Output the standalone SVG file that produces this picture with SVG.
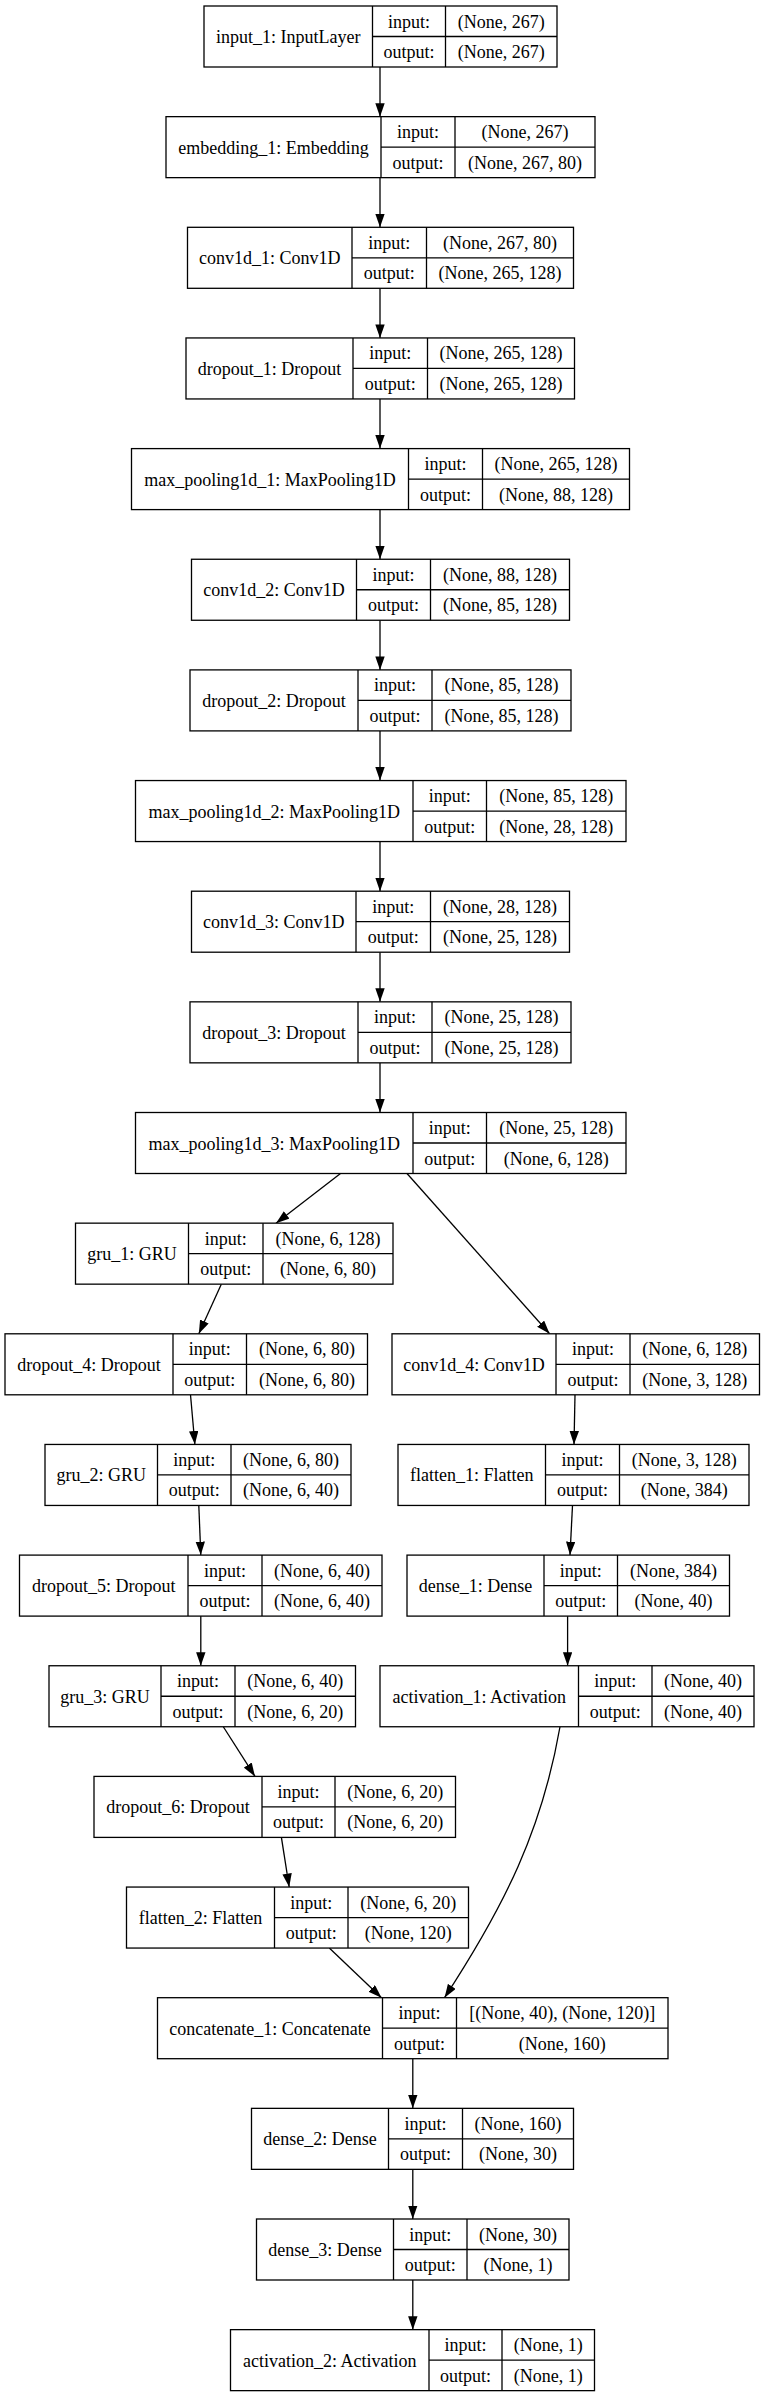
<svg xmlns="http://www.w3.org/2000/svg" width="762" height="2397" viewBox="0 0 762 2397">
<style>
rect.b{fill:#fff;stroke:#000;stroke-width:1.3}
line.d{stroke:#000;stroke-width:1.3}
text{font-family:"Liberation Serif","Times New Roman",serif;font-size:18px;fill:#000;text-anchor:middle}
.e{fill:none;stroke:#000;stroke-width:1.3;marker-end:url(#ah)}
</style>
<defs>
<marker id="ah" markerUnits="userSpaceOnUse" markerWidth="14" markerHeight="10" refX="13.5" refY="4.7" orient="auto">
<path d="M0,0 L13.5,4.7 L0,9.4 z" fill="#000"/>
</marker>
</defs>
<rect width="762" height="2397" fill="#fff"/>
<g id="connectors">
<path class="e" d="M380,67 L380,116.65"/>
<path class="e" d="M380,177.65 L380,227.3"/>
<path class="e" d="M380,288.3 L380,337.95"/>
<path class="e" d="M380,398.95 L380,448.6"/>
<path class="e" d="M380,509.6 L380,559.25"/>
<path class="e" d="M380,620.25 L380,669.9"/>
<path class="e" d="M380,730.9 L380,780.55"/>
<path class="e" d="M380,841.55 L380,891.2"/>
<path class="e" d="M380,952.2 L380,1001.85"/>
<path class="e" d="M380,1062.85 L380,1112.5"/>
<path class="e" d="M340.5,1173.5 L276,1223.15"/>
<path class="e" d="M407,1173.5 L549.6,1333.8"/>
<path class="e" d="M221.3,1284.15 L198.8,1333.8"/>
<path class="e" d="M190.5,1394.8 L194.9,1444.45"/>
<path class="e" d="M575,1394.8 L574,1444.45"/>
<path class="e" d="M198.8,1505.45 L200.8,1555.1"/>
<path class="e" d="M572.5,1505.45 L570,1555.1"/>
<path class="e" d="M200.8,1616.1 L200.8,1665.75"/>
<path class="e" d="M567.6,1616.1 L567.6,1665.75"/>
<path class="e" d="M223.3,1726.75 L255,1776.4"/>
<path class="e" d="M560,1726.75 C542,1830 505,1905 444.5,1997.7"/>
<path class="e" d="M281.4,1837.4 L289.2,1887.05"/>
<path class="e" d="M329.3,1948.05 L381.5,1997.7"/>
<path class="e" d="M412.8,2058.7 L412.8,2108.35"/>
<path class="e" d="M412.8,2169.35 L412.8,2219"/>
<path class="e" d="M412.8,2280 L412.8,2329.65"/>
</g>

<g id="input_1" transform="translate(0,6)">
<rect class="b" x="204" y="0" width="353" height="61"/>
<line class="d" x1="372.5" y1="0" x2="372.5" y2="61"/><line class="d" x1="445.5" y1="0" x2="445.5" y2="61"/><line class="d" x1="372.5" y1="30.5" x2="557" y2="30.5"/>
<text x="288.25" y="37">input_1: InputLayer</text>
<text x="409" y="21.5">input:</text><text x="409" y="52">output:</text>
<text x="501.25" y="21.5">(None, 267)</text><text x="501.25" y="52">(None, 267)</text>
</g>

<g id="embedding_1" transform="translate(0,116.65)">
<rect class="b" x="166" y="0" width="429" height="61"/>
<line class="d" x1="381" y1="0" x2="381" y2="61"/><line class="d" x1="455" y1="0" x2="455" y2="61"/><line class="d" x1="381" y1="30.5" x2="595" y2="30.5"/>
<text x="273.5" y="37">embedding_1: Embedding</text>
<text x="418" y="21.5">input:</text><text x="418" y="52">output:</text>
<text x="525" y="21.5">(None, 267)</text><text x="525" y="52">(None, 267, 80)</text>
</g>

<g id="conv1d_1" transform="translate(0,227.3)">
<rect class="b" x="187.5" y="0" width="386" height="61"/>
<line class="d" x1="352" y1="0" x2="352" y2="61"/><line class="d" x1="426.5" y1="0" x2="426.5" y2="61"/><line class="d" x1="352" y1="30.5" x2="573.5" y2="30.5"/>
<text x="269.75" y="37">conv1d_1: Conv1D</text>
<text x="389.25" y="21.5">input:</text><text x="389.25" y="52">output:</text>
<text x="500" y="21.5">(None, 267, 80)</text><text x="500" y="52">(None, 265, 128)</text>
</g>

<g id="dropout_1" transform="translate(0,337.95)">
<rect class="b" x="186" y="0" width="388.5" height="61"/>
<line class="d" x1="353" y1="0" x2="353" y2="61"/><line class="d" x1="427.5" y1="0" x2="427.5" y2="61"/><line class="d" x1="353" y1="30.5" x2="574.5" y2="30.5"/>
<text x="269.5" y="37">dropout_1: Dropout</text>
<text x="390.25" y="21.5">input:</text><text x="390.25" y="52">output:</text>
<text x="501" y="21.5">(None, 265, 128)</text><text x="501" y="52">(None, 265, 128)</text>
</g>

<g id="max_pooling1d_1" transform="translate(0,448.6)">
<rect class="b" x="131.5" y="0" width="498" height="61"/>
<line class="d" x1="408.5" y1="0" x2="408.5" y2="61"/><line class="d" x1="482.5" y1="0" x2="482.5" y2="61"/><line class="d" x1="408.5" y1="30.5" x2="629.5" y2="30.5"/>
<text x="270" y="37">max_pooling1d_1: MaxPooling1D</text>
<text x="445.5" y="21.5">input:</text><text x="445.5" y="52">output:</text>
<text x="556" y="21.5">(None, 265, 128)</text><text x="556" y="52">(None, 88, 128)</text>
</g>

<g id="conv1d_2" transform="translate(0,559.25)">
<rect class="b" x="191.5" y="0" width="378" height="61"/>
<line class="d" x1="356.5" y1="0" x2="356.5" y2="61"/><line class="d" x1="430.5" y1="0" x2="430.5" y2="61"/><line class="d" x1="356.5" y1="30.5" x2="569.5" y2="30.5"/>
<text x="274" y="37">conv1d_2: Conv1D</text>
<text x="393.5" y="21.5">input:</text><text x="393.5" y="52">output:</text>
<text x="500" y="21.5">(None, 88, 128)</text><text x="500" y="52">(None, 85, 128)</text>
</g>

<g id="dropout_2" transform="translate(0,669.9)">
<rect class="b" x="190" y="0" width="381" height="61"/>
<line class="d" x1="358" y1="0" x2="358" y2="61"/><line class="d" x1="432" y1="0" x2="432" y2="61"/><line class="d" x1="358" y1="30.5" x2="571" y2="30.5"/>
<text x="274" y="37">dropout_2: Dropout</text>
<text x="395" y="21.5">input:</text><text x="395" y="52">output:</text>
<text x="501.5" y="21.5">(None, 85, 128)</text><text x="501.5" y="52">(None, 85, 128)</text>
</g>

<g id="max_pooling1d_2" transform="translate(0,780.55)">
<rect class="b" x="135.5" y="0" width="490.5" height="61"/>
<line class="d" x1="413" y1="0" x2="413" y2="61"/><line class="d" x1="486.5" y1="0" x2="486.5" y2="61"/><line class="d" x1="413" y1="30.5" x2="626" y2="30.5"/>
<text x="274.25" y="37">max_pooling1d_2: MaxPooling1D</text>
<text x="449.75" y="21.5">input:</text><text x="449.75" y="52">output:</text>
<text x="556.25" y="21.5">(None, 85, 128)</text><text x="556.25" y="52">(None, 28, 128)</text>
</g>

<g id="conv1d_3" transform="translate(0,891.2)">
<rect class="b" x="191.5" y="0" width="378" height="61"/>
<line class="d" x1="356" y1="0" x2="356" y2="61"/><line class="d" x1="430.5" y1="0" x2="430.5" y2="61"/><line class="d" x1="356" y1="30.5" x2="569.5" y2="30.5"/>
<text x="273.75" y="37">conv1d_3: Conv1D</text>
<text x="393.25" y="21.5">input:</text><text x="393.25" y="52">output:</text>
<text x="500" y="21.5">(None, 28, 128)</text><text x="500" y="52">(None, 25, 128)</text>
</g>

<g id="dropout_3" transform="translate(0,1001.85)">
<rect class="b" x="190" y="0" width="381" height="61"/>
<line class="d" x1="358" y1="0" x2="358" y2="61"/><line class="d" x1="432" y1="0" x2="432" y2="61"/><line class="d" x1="358" y1="30.5" x2="571" y2="30.5"/>
<text x="274" y="37">dropout_3: Dropout</text>
<text x="395" y="21.5">input:</text><text x="395" y="52">output:</text>
<text x="501.5" y="21.5">(None, 25, 128)</text><text x="501.5" y="52">(None, 25, 128)</text>
</g>

<g id="max_pooling1d_3" transform="translate(0,1112.5)">
<rect class="b" x="135.5" y="0" width="490.5" height="61"/>
<line class="d" x1="413" y1="0" x2="413" y2="61"/><line class="d" x1="486.5" y1="0" x2="486.5" y2="61"/><line class="d" x1="413" y1="30.5" x2="626" y2="30.5"/>
<text x="274.25" y="37">max_pooling1d_3: MaxPooling1D</text>
<text x="449.75" y="21.5">input:</text><text x="449.75" y="52">output:</text>
<text x="556.25" y="21.5">(None, 25, 128)</text><text x="556.25" y="52">(None, 6, 128)</text>
</g>

<g id="gru_1" transform="translate(0,1223.15)">
<rect class="b" x="75.5" y="0" width="317.5" height="61"/>
<line class="d" x1="188.5" y1="0" x2="188.5" y2="61"/><line class="d" x1="263" y1="0" x2="263" y2="61"/><line class="d" x1="188.5" y1="30.5" x2="393" y2="30.5"/>
<text x="132" y="37">gru_1: GRU</text>
<text x="225.75" y="21.5">input:</text><text x="225.75" y="52">output:</text>
<text x="328" y="21.5">(None, 6, 128)</text><text x="328" y="52">(None, 6, 80)</text>
</g>

<g id="dropout_4" transform="translate(0,1333.8)">
<rect class="b" x="5" y="0" width="362.5" height="61"/>
<line class="d" x1="173" y1="0" x2="173" y2="61"/><line class="d" x1="246.5" y1="0" x2="246.5" y2="61"/><line class="d" x1="173" y1="30.5" x2="367.5" y2="30.5"/>
<text x="89" y="37">dropout_4: Dropout</text>
<text x="209.75" y="21.5">input:</text><text x="209.75" y="52">output:</text>
<text x="307" y="21.5">(None, 6, 80)</text><text x="307" y="52">(None, 6, 80)</text>
</g>

<g id="conv1d_4" transform="translate(0,1333.8)">
<rect class="b" x="392" y="0" width="367.5" height="61"/>
<line class="d" x1="556" y1="0" x2="556" y2="61"/><line class="d" x1="630" y1="0" x2="630" y2="61"/><line class="d" x1="556" y1="30.5" x2="759.5" y2="30.5"/>
<text x="474" y="37">conv1d_4: Conv1D</text>
<text x="593" y="21.5">input:</text><text x="593" y="52">output:</text>
<text x="694.75" y="21.5">(None, 6, 128)</text><text x="694.75" y="52">(None, 3, 128)</text>
</g>

<g id="gru_2" transform="translate(0,1444.45)">
<rect class="b" x="45" y="0" width="306" height="61"/>
<line class="d" x1="157.5" y1="0" x2="157.5" y2="61"/><line class="d" x1="231" y1="0" x2="231" y2="61"/><line class="d" x1="157.5" y1="30.5" x2="351" y2="30.5"/>
<text x="101.25" y="37">gru_2: GRU</text>
<text x="194.25" y="21.5">input:</text><text x="194.25" y="52">output:</text>
<text x="291" y="21.5">(None, 6, 80)</text><text x="291" y="52">(None, 6, 40)</text>
</g>

<g id="flatten_1" transform="translate(0,1444.45)">
<rect class="b" x="398" y="0" width="351" height="61"/>
<line class="d" x1="545.5" y1="0" x2="545.5" y2="61"/><line class="d" x1="619.5" y1="0" x2="619.5" y2="61"/><line class="d" x1="545.5" y1="30.5" x2="749" y2="30.5"/>
<text x="471.75" y="37">flatten_1: Flatten</text>
<text x="582.5" y="21.5">input:</text><text x="582.5" y="52">output:</text>
<text x="684.25" y="21.5">(None, 3, 128)</text><text x="684.25" y="52">(None, 384)</text>
</g>

<g id="dropout_5" transform="translate(0,1555.1)">
<rect class="b" x="19.5" y="0" width="362.5" height="61"/>
<line class="d" x1="188" y1="0" x2="188" y2="61"/><line class="d" x1="262" y1="0" x2="262" y2="61"/><line class="d" x1="188" y1="30.5" x2="382" y2="30.5"/>
<text x="103.75" y="37">dropout_5: Dropout</text>
<text x="225" y="21.5">input:</text><text x="225" y="52">output:</text>
<text x="322" y="21.5">(None, 6, 40)</text><text x="322" y="52">(None, 6, 40)</text>
</g>

<g id="dense_1" transform="translate(0,1555.1)">
<rect class="b" x="407" y="0" width="322.5" height="61"/>
<line class="d" x1="544" y1="0" x2="544" y2="61"/><line class="d" x1="617.5" y1="0" x2="617.5" y2="61"/><line class="d" x1="544" y1="30.5" x2="729.5" y2="30.5"/>
<text x="475.5" y="37">dense_1: Dense</text>
<text x="580.75" y="21.5">input:</text><text x="580.75" y="52">output:</text>
<text x="673.5" y="21.5">(None, 384)</text><text x="673.5" y="52">(None, 40)</text>
</g>

<g id="gru_3" transform="translate(0,1665.75)">
<rect class="b" x="49" y="0" width="306.5" height="61"/>
<line class="d" x1="161" y1="0" x2="161" y2="61"/><line class="d" x1="235" y1="0" x2="235" y2="61"/><line class="d" x1="161" y1="30.5" x2="355.5" y2="30.5"/>
<text x="105" y="37">gru_3: GRU</text>
<text x="198" y="21.5">input:</text><text x="198" y="52">output:</text>
<text x="295.25" y="21.5">(None, 6, 40)</text><text x="295.25" y="52">(None, 6, 20)</text>
</g>

<g id="activation_1" transform="translate(0,1665.75)">
<rect class="b" x="380" y="0" width="374" height="61"/>
<line class="d" x1="578.5" y1="0" x2="578.5" y2="61"/><line class="d" x1="652" y1="0" x2="652" y2="61"/><line class="d" x1="578.5" y1="30.5" x2="754" y2="30.5"/>
<text x="479.25" y="37">activation_1: Activation</text>
<text x="615.25" y="21.5">input:</text><text x="615.25" y="52">output:</text>
<text x="703" y="21.5">(None, 40)</text><text x="703" y="52">(None, 40)</text>
</g>

<g id="dropout_6" transform="translate(0,1776.4)">
<rect class="b" x="94" y="0" width="361.5" height="61"/>
<line class="d" x1="262" y1="0" x2="262" y2="61"/><line class="d" x1="335" y1="0" x2="335" y2="61"/><line class="d" x1="262" y1="30.5" x2="455.5" y2="30.5"/>
<text x="178" y="37">dropout_6: Dropout</text>
<text x="298.5" y="21.5">input:</text><text x="298.5" y="52">output:</text>
<text x="395.25" y="21.5">(None, 6, 20)</text><text x="395.25" y="52">(None, 6, 20)</text>
</g>

<g id="flatten_2" transform="translate(0,1887.05)">
<rect class="b" x="126.5" y="0" width="342" height="61"/>
<line class="d" x1="274.5" y1="0" x2="274.5" y2="61"/><line class="d" x1="348" y1="0" x2="348" y2="61"/><line class="d" x1="274.5" y1="30.5" x2="468.5" y2="30.5"/>
<text x="200.5" y="37">flatten_2: Flatten</text>
<text x="311.25" y="21.5">input:</text><text x="311.25" y="52">output:</text>
<text x="408.25" y="21.5">(None, 6, 20)</text><text x="408.25" y="52">(None, 120)</text>
</g>

<g id="concatenate_1" transform="translate(0,1997.7)">
<rect class="b" x="157.5" y="0" width="510.5" height="61"/>
<line class="d" x1="382.5" y1="0" x2="382.5" y2="61"/><line class="d" x1="456.5" y1="0" x2="456.5" y2="61"/><line class="d" x1="382.5" y1="30.5" x2="668" y2="30.5"/>
<text x="270" y="37">concatenate_1: Concatenate</text>
<text x="419.5" y="21.5">input:</text><text x="419.5" y="52">output:</text>
<text x="562.25" y="21.5">[(None, 40), (None, 120)]</text><text x="562.25" y="52">(None, 160)</text>
</g>

<g id="dense_2" transform="translate(0,2108.35)">
<rect class="b" x="251.5" y="0" width="322" height="61"/>
<line class="d" x1="388.5" y1="0" x2="388.5" y2="61"/><line class="d" x1="462.5" y1="0" x2="462.5" y2="61"/><line class="d" x1="388.5" y1="30.5" x2="573.5" y2="30.5"/>
<text x="320" y="37">dense_2: Dense</text>
<text x="425.5" y="21.5">input:</text><text x="425.5" y="52">output:</text>
<text x="518" y="21.5">(None, 160)</text><text x="518" y="52">(None, 30)</text>
</g>

<g id="dense_3" transform="translate(0,2219)">
<rect class="b" x="256.5" y="0" width="312.5" height="61"/>
<line class="d" x1="393.5" y1="0" x2="393.5" y2="61"/><line class="d" x1="467" y1="0" x2="467" y2="61"/><line class="d" x1="393.5" y1="30.5" x2="569" y2="30.5"/>
<text x="325" y="37">dense_3: Dense</text>
<text x="430.25" y="21.5">input:</text><text x="430.25" y="52">output:</text>
<text x="518" y="21.5">(None, 30)</text><text x="518" y="52">(None, 1)</text>
</g>

<g id="activation_2" transform="translate(0,2329.65)">
<rect class="b" x="230.5" y="0" width="364" height="61"/>
<line class="d" x1="429" y1="0" x2="429" y2="61"/><line class="d" x1="502" y1="0" x2="502" y2="61"/><line class="d" x1="429" y1="30.5" x2="594.5" y2="30.5"/>
<text x="329.75" y="37">activation_2: Activation</text>
<text x="465.5" y="21.5">input:</text><text x="465.5" y="52">output:</text>
<text x="548.25" y="21.5">(None, 1)</text><text x="548.25" y="52">(None, 1)</text>
</g>
</svg>
